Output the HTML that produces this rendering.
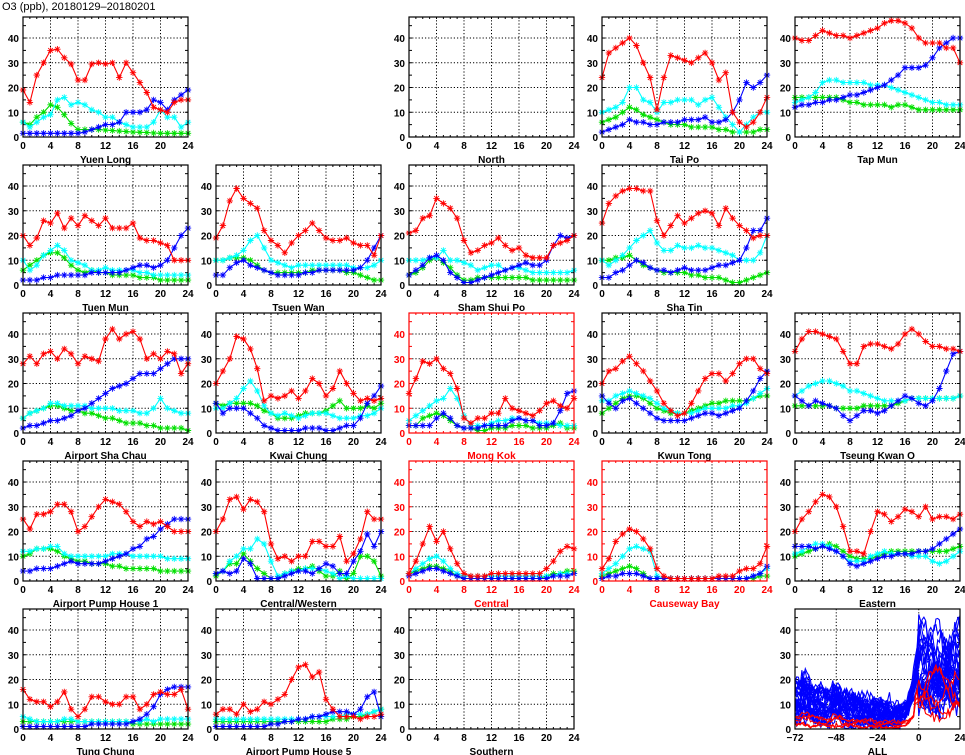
<!DOCTYPE html>
<html><head><meta charset="utf-8"><style>
html,body{margin:0;padding:0;background:#fff;}
svg{display:block;font-family:"Liberation Sans",sans-serif;}
</style></head><body>
<svg id="s" width="965" height="755" viewBox="0 0 965 755" xmlns="http://www.w3.org/2000/svg">
<text x="2" y="10" font-size="11" fill="#000">O3 (ppb), 20180129–20180201</text>
</svg>
<script>
const S=document.getElementById('s');const NS='http://www.w3.org/2000/svg';
function el(t,a,txt){const e=document.createElementNS(NS,t);for(const k in a)e.setAttribute(k,a[k]);if(txt!=null)e.textContent=txt;S.appendChild(e);return e;}
const COLS=[23,216,409,602,795],ROWS=[137,285,433,581,729],W=165,H=120,YMAX=48.5;
const C={r:'#ff0000',c:'#00ffff',g:'#00e000',b:'#0000ff'};
const P=[
[0,0,'Yuen Long',0,{r:[19,14,25,30,35,35.5,32,29.5,23,23,29.5,30,29.5,30,24,30,26,22,18,12,11,10,14,15,15],c:[6,4,6,8,9,15,16,13,14,13,11,10,8,8,6,5,4,4,4,6,11,8,8,4,6],g:[6,5,8,10,13,12,9,5.5,3,3,3,3,2.8,2.6,2.4,2.2,2,1.9,1.8,1.6,1.5,1.5,1.5,1.5,1.5],b:[1.5,1.5,1.5,1.5,1.5,1.5,1.5,1.5,1.5,2,3,4,5,5,6,10,10,10,11,15,14,11,15,17,19]}],
[0,2,'North',0,null],
[0,3,'Tai Po',0,{r:[24,34,36,38,40,37,30,24,11,24,33,32,31,30,32,34,30,23,26,10,6,4,6,10,16],c:[10,11,12,14,20,20,15,14,10,14,14,15,15,15,13,15,16,12,8,5,2,5,8,10,10],g:[6,7,8,10,12,11,9,8,7,6,5,5,5,4,4,4,4,3,3,2,2,2,2,3,3],b:[2,3,4,5,7,6,6,5,5,6,6,6,7,7,7,8,6,6,7,10,15,22,20,22,25]}],
[0,4,'Tap Mun',0,{r:[40,39,39,41,43,42,41,41,40,41,42,43,44,46,47,47,46,44,40,38,38,38,36,36,30],c:[14,15,16,18,22,23,23,22,22,22,22,21,21,21,20,19,18,17,16,15,14,14,13,13,13],g:[16,16,16,16,16,16,16,15,14,14,13,13,13,13,12,13,13,12,11,11,11,11,11,11,11],b:[12,13,13,14,14,15,15,16,17,17,18,19,20,21,23,25,28,28,28,29,32,36,38,40,40]}],
[1,0,'Tuen Mun',0,{r:[20,16,19,26,25,29,23,27,24,28,26,24,27,23,23,23,25,19,18,18,17,16,10,10,10],c:[10,6,8,12,14,16,14,10,9,8,6,6,7,6,6,6,6,5,5,4,4,4,4,4,4],g:[6,8,10,12,13,13,11,8,6,5,6,5,5,4,4,4,4,3,3,3,2,2,2,2,2],b:[2,2,2,3,3,4,4,4,4,4,5,5,5,5,5,6,7,8,8,7,8,10,15,20,23]}],
[1,1,'Tsuen Wan',0,{r:[19,24,34,39,35,33,31,22,18,16,13,17,20,22,25,22,19,18,18,19,17,16,16,12,20],c:[10,10,11,12,14,18,20,15,10,9,8,7,8,8,8,8,8,8,8,8,7,7,7,8,10],g:[10,10,11,11,11,10,8,6,5,5,5,5,5,5,6,6,6,6,6,5,5,4,3,2,2],b:[4,4,7,9,10,8,7,6,5,4,4,4,4,5,5,6,6,6,6,6,6,7,10,15,20]}],
[1,2,'Sham Shui Po',0,{r:[21,22,27,28,35,33,31,27,18,13,14,16,17,19,16,14,15,12,11,11,11,16,17,18,20],c:[10,10,10,11,11,14,10,10,9,8,6,7,8,8,6,7,7,6,5,5,5,5,5,5,6],g:[4,5,7,10,11,9,7,4,2,2,3,3,3,3,3,3,3,3,2,2,2,2,2,2,2],b:[4,6,8,11,12,10,5,3,1,1,2,3,4,5,6,7,8,9,8,8,10,16,20,19,20]}],
[1,3,'Sha Tin',0,{r:[25,33,36,38,39,39,38,38,26,20,24,28,25,27,29,30,29,24,31,27,24,22,19,20,20],c:[10,8,10,12,15,18,20,22,17,14,14,16,15,15,16,15,15,14,13,12,10,10,10,13,20],g:[10,10,11,11,12,10,8,7,6,5,5,5,5,4,4,3,3,3,2,1,1,2,3,4,5],b:[3,3,5,6,8,10,9,7,6,6,5,6,7,6,6,6,7,8,8,9,10,15,22,22,27]}],
[2,0,'Airport Sha Chau',0,{r:[28,31,28,32,33,30,34,32,28,31,30,29,38,42,38,40,41,38,30,32,30,33,32,24,28],c:[6,8,9,10,12,12,11,11,11,11,10,10,10,10,9,9,9,8,8,10,14,10,9,8,8],g:[6,8,9,10,11,11,10,9,9,8,8,7,6,6,5,4,4,4,3,3,2,2,2,2,1],b:[2,3,3,4,5,5,6,7,9,10,12,14,16,18,19,20,22,24,24,24,26,28,30,30,30]}],
[2,1,'Kwai Chung',0,{r:[20,25,30,39,38,34,26,13,15,14,15,17,14,17,22,20,15,18,25,20,16,13,14,13,14],c:[10,10,12,14,18,21,17,11,8,7,8,7,6,7,8,8,8,7,6,6,6,7,7,8,10],g:[12,11,12,12,12,12,11,9,8,6,6,6,7,8,8,8,9,11,13,10,10,10,11,10,12],b:[12,8,10,10,10,8,6,3,2,1,1,1,1,2,2,2,1,1,2,3,3,6,12,15,19]}],
[2,2,'Mong Kok',1,{r:[16,22,29,28,30,26,24,18,6,4,6,6,8,8,14,10,9,8,7,9,12,13,11,10,14],c:[5,7,9,11,13,14,18,14,7,3,3,3,4,5,5,6,6,5,5,4,4,4,3,3,3],g:[3,3,6,7,8,7,5,3,2,2,1,1,2,2,2,3,3,3,2,2,2,3,4,2,2],b:[3,3,3,3,6,8,6,3,2,2,2,3,3,3,3,5,6,5,5,3,3,4,9,16,17]}],
[2,3,'Kwun Tong',0,{r:[20,25,26,29,31,28,25,21,17,12,9,7,8,12,17,22,24,24,21,24,28,30,30,26,24],c:[13,13,15,16,17,16,15,14,12,10,9,8,8,8,9,10,10,10,10,11,11,12,14,16,18],g:[8,10,12,14,15,15,14,12,10,9,8,8,8,9,10,11,12,12,13,13,13,13,14,15,15],b:[15,12,10,13,14,12,10,8,6,5,5,5,5,6,7,8,8,7,8,9,10,13,17,22,25]}],
[2,4,'Tseung Kwan O',0,{r:[33,38,41,41,40,39,38,33,28,28,35,36,36,35,34,36,40,42,40,37,35,35,34,34,33],c:[15,17,19,20,21,21,20,19,17,17,16,15,14,13,13,13,13,14,14,14,14,14,14,14,15],g:[11,11,11,11,11,11,10,10,10,10,11,11,11,11,11,12,13,14,14,14,14,14,14,14,15],b:[15,13,11,13,12,11,10,7,5,7,9,9,8,9,11,13,15,14,12,11,13,18,25,32,33]}],
[3,0,'Airport Pump House 1',0,{r:[25,21,27,27,28,31,31,28,20,22,26,30,33,32,31,28,24,22,24,23,24,22,20,20,20],c:[12,12,13,13,14,14,11,10,10,10,10,10,10,11,11,11,10,10,10,10,10,9,9,9,9],g:[10,11,13,13,13,12,10,9,8,8,7,7,7,6,6,5,5,5,5,5,4,4,4,4,4],b:[4,4,5,5,5,6,7,8,7,7,7,7,8,9,10,11,13,14,17,18,21,23,25,25,25]}],
[3,1,'Central/Western',0,{r:[20,25,33,34,29,33,32,28,15,9,10,8,10,10,16,16,14,14,18,8,11,17,28,25,25],c:[3,4,8,10,13,13,17,15,8,2,3,4,4,5,5,5,4,3,1,2,1,1,1,1,1],g:[2,4,7,7,11,8,5,3,1,1,3,4,5,5,6,4,2,2,4,1,3,10,10,8,2],b:[3,4,3,4,9,7,1,1,1,1,2,3,4,4,3,5,7,6,3,3,8,12,19,14,20]}],
[3,2,'Central',1,{r:[3,8,15,22,16,20,13,7,3,2,2,2,3,3,3,3,3,3,3,3,5,8,12,14,13],c:[3,5,7,9,10,8,5,3,2,2,2,2,2,2,2,2,2,2,2,2,2,2,3,3,3],g:[3,4,5,6,6,5,4,2,1,1,1,1,1,1,1,1,1,1,1,1,2,3,3,4,4],b:[2,3,4,5,5,4,3,2,1,1,1,1,1,1,1,1,1,1,1,1,1,2,2,2,3]}],
[3,3,'Causeway Bay',1,{r:[5,9,16,19,21,20,17,13,5,2,1,1,1,1,1,1,1,2,2,2,4,5,5,7,14],c:[3,5,7,10,13,14,13,12,2,1,1,1,1,1,1,1,1,1,1,1,1,1,2,3,5],g:[2,3,4,5,6,5,3,1,1,1,1,1,1,1,1,1,1,1,1,1,1,1,1,2,2],b:[1,2,2,3,3,3,2,1,1,1,1,1,1,1,1,1,1,1,1,1,1,1,2,3,6]}],
[3,4,'Eastern',0,{r:[20,25,28,32,35,34,30,22,12,12,11,20,28,27,24,26,29,28,26,30,25,26,26,25,27],c:[11,12,14,15,15,14,12,10,8,8,8,10,11,12,11,11,11,10,10,10,8,7,8,10,12],g:[10,11,12,13,14,15,14,12,10,9,9,9,10,11,12,12,12,12,12,12,12,12,12,13,14],b:[14,14,14,13,14,13,12,10,7,6,7,8,9,10,10,11,11,11,12,12,13,15,17,19,21]}],
[4,0,'Tung Chung',0,{r:[16,12,11,11,9,11,15,8,5,8,13,13,11,10,10,13,13,8,10,14,15,14,14,16,8],c:[5,4,3,3,3,3,4,4,3,3,3,3,3,3,3,3,3,3,4,3,4,4,4,4,4],g:[3,3,3,3,3,3,3,3,3,3,3,3,3,3,3,3,2,2,2,2,2,2,2,2,2],b:[1,1,1,1,1,1,1,1,1,1,2,2,2,2,2,2,3,4,6,9,14,16,17,17,17]}],
[4,1,'Airport Pump House 5',0,{r:[6,8,8,6,10,7,8,11,10,12,14,20,25,26,21,23,12,8,5,5,5,4,5,5,6],c:[4,4,4,4,4,4,4,4,4,4,4,4,4,4,5,5,5,5,5,6,6,6,6,7,8],g:[3,3,3,3,3,3,3,3,3,3,3,3,3,3,3,3,3,4,4,4,5,5,6,7,8],b:[1,1,1,1,1,1,1,1,2,2,3,3,4,4,5,5,6,7,7,7,6,8,13,15,5]}],
[4,2,'Southern',0,null],
[4,4,'ALL',0,'all']
];
function frame(x0,yb,red,all){
  const yt=yb-H,col=red?'#ff0000':'#000';
  const xt=all?[-72,-48,-24,0,24]:[0,4,8,12,16,20,24];
  const xmin=all?-72:0,xmax=24;
  const X=v=>x0+(v-xmin)/(xmax-xmin)*W;
  const Y=v=>yb-v/YMAX*H;
  for(const v of xt){if(v!==xmin&&v!==xmax)el('line',{x1:X(v),x2:X(v),y1:yt,y2:yb,stroke:'#000','stroke-width':1,'stroke-dasharray':'1.2,2'});}
  for(const v of [10,20,30,40])el('line',{x1:x0,x2:x0+W,y1:Y(v),y2:Y(v),stroke:'#000','stroke-width':1,'stroke-dasharray':'1.2,2'});
  if(!all)for(let h=1;h<24;h++){el('line',{x1:X(h),x2:X(h),y1:yb,y2:yb-2,stroke:col});el('line',{x1:X(h),x2:X(h),y1:yt,y2:yt+2,stroke:col});}
  for(let v=5;v<YMAX;v+=5){el('line',{x1:x0,x2:x0+3,y1:Y(v),y2:Y(v),stroke:col});el('line',{x1:x0+W,x2:x0+W-3,y1:Y(v),y2:Y(v),stroke:col});}
  for(const v of xt)el('text',{x:X(v),y:yb+12,'font-size':10,'font-weight':'bold','text-anchor':'middle',fill:col},v<0?'−'+(-v):v);
  for(const v of [0,10,20,30,40])el('text',{x:x0-4,y:Y(v)+4,'font-size':10,'font-weight':'bold','text-anchor':'end',fill:col},v);
  return {X,Y,yt,col};
}
function star(x,y,c){const r=3.2;let d='';for(const a of [0,45,90,135]){const t=a*Math.PI/180,dx=r*Math.cos(t),dy=r*Math.sin(t);d+=`M${(x-dx).toFixed(1)},${(y-dy).toFixed(1)}L${(x+dx).toFixed(1)},${(y+dy).toFixed(1)}`;}el('path',{d,stroke:c,'stroke-width':0.9,fill:'none'});}
let seed=7;function rnd(){seed=(seed*16807)%2147483647;return seed/2147483647;}
for(const [r,c,name,red,data] of P){
  const x0=COLS[c],yb=ROWS[r];
  const f=frame(x0,yb,red,data==='all');
  if(data==='all'){
    const lines=(n,col)=>{for(let k=0;k<n;k++){let pts=[];let base=4+rnd()*16,peak=18+rnd()*27,ph=rnd()*6;
      for(let h=-72;h<=24;h+=1){let v;
        if(h<-10)v=base*(1-0.55*(h+72)/62)+Math.sin(h*0.4+ph)*4*rnd()+(Math.abs(h+66)<3?5*rnd():0)+(Math.abs(h+48)<3?4*rnd():0)+(rnd()-0.5)*4;
        else if(h<0)v=base*0.45+Math.pow((h+10)/10,2)*peak*0.7+rnd()*3;
        else v=peak*(0.7+0.3*Math.sin(h/4+ph))+(rnd()-0.5)*8;
        if(col==='#ff0000'){v=h<-2?Math.max(0.5,v*0.3):v*0.55;}
        v=Math.max(0.3,Math.min(47,v));pts.push(f.X(h).toFixed(1)+','+f.Y(v).toFixed(1));}
      el('polyline',{points:pts.join(' '),fill:'none',stroke:col,'stroke-width':1.1});}};
    lines(30,'#0000ff');lines(5,'#ff0000');
  } else if(data){
    for(const k of ['g','c','b','r']){const a=data[k];const pts=a.map((v,i)=>f.X(i).toFixed(1)+','+f.Y(v).toFixed(1));
      el('polyline',{points:pts.join(' '),fill:'none',stroke:C[k],'stroke-width':1.1});
      a.forEach((v,i)=>star(f.X(i),f.Y(v),C[k]));}
  }
  el('rect',{x:x0,y:yb-H,width:W,height:H,fill:'none',stroke:f.col,'stroke-width':1.2});
  el('text',{x:x0+W/2,y:yb+26,'font-size':10,'font-weight':'bold','text-anchor':'middle',fill:f.col},name);
}
</script>
</body></html>
